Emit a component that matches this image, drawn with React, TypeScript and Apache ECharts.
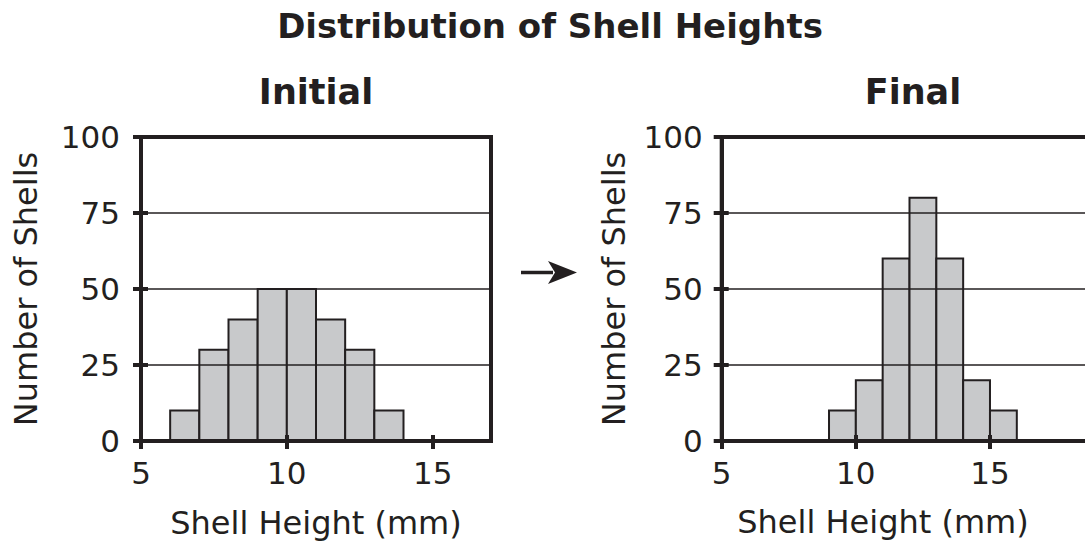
import React, { useEffect, useRef } from "react";
import * as echarts from "echarts";

const initialBinStarts = [6, 7, 8, 9, 10, 11, 12, 13];
const initialCounts = [10, 30, 40, 50, 50, 40, 30, 10];
const finalBinStarts = [9, 10, 11, 12, 13, 14, 15];
const finalCounts = [10, 20, 60, 80, 60, 20, 10];
const binWidth = 1;
const xTickValues = [5, 10, 15];
const yTickValues = [0, 25, 50, 75, 100];

const INK = "#231f20";
const FONT = "DejaVu Sans";

function buildData(starts: number[], counts: number[]) {
  return starts.map((s, i) => [s, s + binWidth, counts[i]]);
}

const renderBar = (params: any, api: any) => {
  const p0 = api.coord([api.value(0), api.value(2)]);
  const p1 = api.coord([api.value(1), 0]);
  return {
    type: "rect",
    shape: { x: p0[0], y: p0[1], width: p1[0] - p0[0], height: p1[1] - p0[1] },
    style: { fill: "#c8c9cb", stroke: INK, lineWidth: 2 },
  };
};

function outerX(gridIndex: number, max: number, name: string, nameGap: number, margin: number) {
  return {
    type: "value",
    gridIndex,
    position: "bottom",
    min: 5,
    max,
    interval: 5,
    name,
    nameLocation: "middle",
    nameGap,
    nameTextStyle: { fontFamily: FONT, fontSize: 32, color: INK },
    axisLine: { show: true, onZero: false, lineStyle: { color: INK, width: 4 } },
    axisTick: { show: true, inside: false, length: 8, lineStyle: { color: INK, width: 4 }, customValues: xTickValues },
    axisLabel: { show: true, margin, fontFamily: FONT, fontSize: 31, color: INK, customValues: xTickValues },
    splitLine: { show: false },
    z: 5,
  };
}

function innerX(gridIndex: number, max: number) {
  return {
    type: "value",
    gridIndex,
    position: "bottom",
    min: 5,
    max,
    interval: 5,
    axisLine: { show: false, onZero: false },
    axisTick: { show: true, inside: true, length: 6, lineStyle: { color: INK, width: 4 }, customValues: xTickValues },
    axisLabel: { show: false },
    splitLine: { show: false },
    z: 5,
  };
}

function outerY(gridIndex: number, nameGap: number, margin: number) {
  return {
    type: "value",
    gridIndex,
    position: "left",
    min: 0,
    max: 100,
    interval: 25,
    name: "Number of Shells",
    nameLocation: "middle",
    nameGap,
    nameRotate: 90,
    nameTextStyle: { fontFamily: FONT, fontSize: 32, color: INK },
    axisLine: { show: true, lineStyle: { color: INK, width: 4 } },
    axisTick: { show: true, inside: false, length: 8, lineStyle: { color: INK, width: 4 } },
    axisLabel: { show: true, margin, fontFamily: FONT, fontSize: 31, color: INK, customValues: yTickValues },
    splitLine: { show: true, lineStyle: { color: INK, width: 1.6 } },
    z: 5,
  };
}

function innerY(gridIndex: number) {
  return {
    type: "value",
    gridIndex,
    position: "left",
    min: 0,
    max: 100,
    interval: 25,
    axisLine: { show: false },
    axisTick: { show: true, inside: true, length: 7, lineStyle: { color: INK, width: 4 } },
    axisLabel: { show: false },
    splitLine: { show: false },
    z: 5,
  };
}

export default function App() {
  const ref = useRef<HTMLDivElement>(null);
  useEffect(() => {
    if (!ref.current) return;
    const chart = echarts.init(ref.current, null, { renderer: "svg" });
    const option: any = {
      animation: false,
      backgroundColor: "#ffffff",
      grid: [
        { left: 141, top: 137, width: 350, height: 304, show: true, borderColor: INK, borderWidth: 4, backgroundColor: "transparent", outerBoundsMode: "none" },
        { left: 721.7, top: 137, width: 375.6, height: 304, show: true, borderColor: INK, borderWidth: 4, backgroundColor: "transparent", outerBoundsMode: "none" },
      ],
      xAxis: [
        outerX(0, 17, "Shell Height (mm)", 66, 16),
        innerX(0, 17),
        outerX(1, 19, "", 66, 16),
        innerX(1, 19),
      ],
      yAxis: [outerY(0, 99, 21), innerY(0), outerY(1, 92, 19), innerY(1)],
      series: [
        {
          type: "custom",
          xAxisIndex: 0,
          yAxisIndex: 0,
          renderItem: renderBar,
          encode: { x: [0, 1], y: 2 },
          data: buildData(initialBinStarts, initialCounts),
          z: 3,
        },
        {
          type: "custom",
          xAxisIndex: 2,
          yAxisIndex: 2,
          renderItem: renderBar,
          encode: { x: [0, 1], y: 2 },
          data: buildData(finalBinStarts, finalCounts),
          z: 3,
        },
      ],
      graphic: [
        {
          type: "text",
          x: 550,
          y: 9,
          style: { text: "Distribution of Shell Heights", font: `bold 34px "${FONT}"`, fill: INK, textAlign: "center", textVerticalAlign: "top" },
        },
        {
          type: "text",
          x: 316,
          y: 74,
          style: { text: "Initial", font: `bold 35px "${FONT}"`, fill: INK, textAlign: "center", textVerticalAlign: "top" },
        },
        {
          type: "text",
          x: 913,
          y: 74,
          style: { text: "Final", font: `bold 35px "${FONT}"`, fill: INK, textAlign: "center", textVerticalAlign: "top" },
        },
        {
          type: "text",
          x: 883,
          y: 506,
          style: { text: "Shell Height (mm)", font: `32px "${FONT}"`, fill: INK, textAlign: "center", textVerticalAlign: "top" },
        },
        {
          type: "line",
          shape: { x1: 521, y1: 272.5, x2: 553, y2: 272.5 },
          style: { stroke: INK, lineWidth: 3.5 },
        },
        {
          type: "polygon",
          shape: { points: [[548, 261], [577, 272.5], [548, 284], [555, 272.5]] },
          style: { fill: INK },
        },
      ],
    };
    chart.setOption(option);
    return () => chart.dispose();
  }, []);
  return (
    <div
      ref={ref}
      style={{ position: "fixed", left: 0, top: 0, width: 1085, height: 544, background: "#fff" }}
    />
  );
}
